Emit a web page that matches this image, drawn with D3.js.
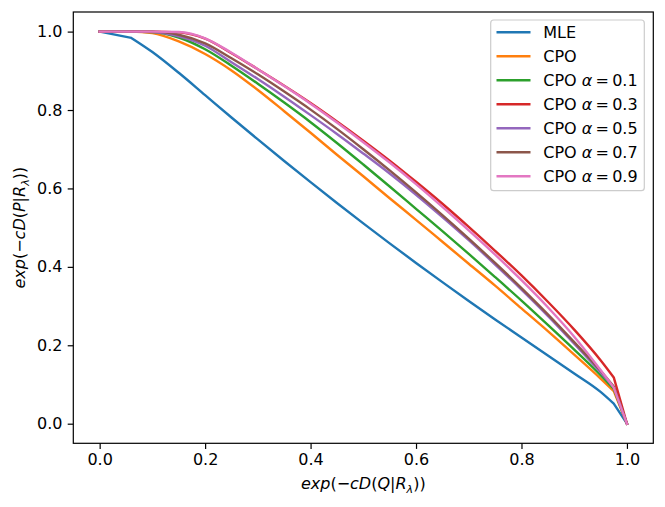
<!DOCTYPE html>
<html>
<head>
<meta charset="utf-8">
<script src="https://cdn.jsdelivr.net/npm/d3@7"></script>
<style>
  html, body { margin: 0; padding: 0; background: #fff; }
  svg { display: block; font-family: "DejaVu Sans", sans-serif; }
</style>
</head>
<body>
<svg id="chart" width="665" height="507"></svg>
<script>
// ---- data ----
const xs = [0, 0.06, 0.1, 0.15, 0.2, 0.25, 0.3, 0.35, 0.4, 0.45, 0.5, 0.55, 0.6, 0.65, 0.7, 0.75, 0.8, 0.85, 0.9, 0.95, 0.975, 1.0];
const mle  = [1, 0.984, 0.948, 0.895, 0.838, 0.781, 0.725, 0.670, 0.616, 0.563, 0.511, 0.460, 0.410, 0.361, 0.313, 0.266, 0.220, 0.174, 0.128, 0.081, 0.051, 0];
const cpo  = [1, 1, 0.996, 0.975, 0.943, 0.901, 0.851, 0.797, 0.742, 0.686, 0.631, 0.575, 0.520, 0.464, 0.408, 0.352, 0.294, 0.236, 0.176, 0.115, 0.083, 0];
const a01  = [1, 1, 0.999, 0.985, 0.955, 0.913, 0.867, 0.819, 0.769, 0.716, 0.661, 0.605, 0.548, 0.491, 0.433, 0.374, 0.314, 0.252, 0.189, 0.124, 0.089, 0];
const a03  = [1, 1, 1, 0.998, 0.982, 0.945, 0.904, 0.862, 0.818, 0.771, 0.722, 0.671, 0.617, 0.561, 0.502, 0.441, 0.378, 0.311, 0.240, 0.162, 0.118, 0];
const a05  = [1, 1, 0.999, 0.988, 0.964, 0.922, 0.879, 0.834, 0.787, 0.739, 0.689, 0.638, 0.584, 0.527, 0.468, 0.406, 0.342, 0.275, 0.204, 0.131, 0.093, 0];
const a07  = [1, 1, 1, 0.992, 0.970, 0.932, 0.891, 0.847, 0.801, 0.752, 0.700, 0.646, 0.590, 0.532, 0.472, 0.410, 0.346, 0.279, 0.208, 0.135, 0.095, 0];
const a09  = [1, 1, 1, 0.999, 0.983, 0.946, 0.904, 0.861, 0.816, 0.768, 0.718, 0.666, 0.611, 0.553, 0.493, 0.431, 0.366, 0.297, 0.222, 0.137, 0.092, 0];
const seriesNames = ["MLE", "CPO", "CPO α=0.1", "CPO α=0.3", "CPO α=0.5", "CPO α=0.7", "CPO α=0.9"];
const alphaLabels = [null, null, "0.1", "0.3", "0.5", "0.7", "0.9"];
const seriesValues = [mle, cpo, a01, a03, a05, a07, a09];
const colors = ["#1f77b4", "#ff7f0e", "#2ca02c", "#d62728", "#9467bd", "#8c564b", "#e377c2"];
const xTicks = [0, 0.2, 0.4, 0.6, 0.8, 1.0];
const yTicks = [0, 0.2, 0.4, 0.6, 0.8, 1.0];

// ---- layout ----
const svg = d3.select("#chart");
const L = 73.3, R = 653.3, T = 12, B = 443.3;
const FS = 16;
const x = d3.scaleLinear().domain([-0.05, 1.05]).range([L, R]);
const y = d3.scaleLinear().domain([-0.05, 1.05]).range([B, T]);

// lines
const lineSmooth = d3.line().x(d => x(d[0])).y(d => y(d[1])).curve(d3.curveMonotoneX);
const lineStraight = d3.line().x(d => x(d[0])).y(d => y(d[1]));
const g = svg.append("g");
seriesValues.forEach((vals, i) => {
  const pts = xs.map((xv, j) => [xv, vals[j]]);
  const body = pts.slice(0, pts.length - 1);
  const tail = pts.slice(pts.length - 2);
  const d = (i === 0 ? lineStraight(pts.slice(0, 2)) + lineSmooth(pts.slice(1, pts.length - 1)).replace(/^M/, "L") : lineSmooth(body))
            + lineStraight(tail).replace(/^M/, "L");
  g.append("path")
    .attr("d", d)
    .attr("fill", "none")
    .attr("stroke", colors[i])
    .attr("stroke-width", 2.4)
    .attr("stroke-linejoin", "round")
    .attr("stroke-linecap", "square");
});

// axes
const xAxis = d3.axisBottom(x).tickValues(xTicks).tickFormat(d3.format(".1f")).tickSize(5.6).tickPadding(5.2);
const yAxis = d3.axisLeft(y).tickValues(yTicks).tickFormat(d3.format(".1f")).tickSize(5.6).tickPadding(5.2);
const gx = svg.append("g").attr("transform", `translate(0,${B})`).call(xAxis);
const gy = svg.append("g").attr("transform", `translate(${L},0)`).call(yAxis);
[gx, gy].forEach(a => {
  a.select(".domain").remove();
  a.selectAll(".tick line").attr("stroke", "#000").attr("stroke-width", 1.2);
  a.selectAll(".tick text").attr("fill", "#000").style("font-size", FS + "px").style("font-family", "DejaVu Sans");
});
// spines
svg.append("rect").attr("x", L).attr("y", T).attr("width", R - L).attr("height", B - T)
  .attr("fill", "none").attr("stroke", "#000").attr("stroke-width", 1.2);

// math label helper
function mathLabel(sel, letter) {
  const it = (t) => sel.append("tspan").style("font-style", "italic").text(t);
  const up = (t) => sel.append("tspan").style("font-style", "normal").text(t);
  it("exp"); up("(−"); it("cD"); up("("); it(letter); up("|"); it("R");
  sel.append("tspan").style("font-style", "italic").style("font-size", (FS * 0.7) + "px").attr("dy", 3.5).text("λ");
  sel.append("tspan").style("font-style", "normal").attr("dy", -3.5).text("))");
}
const xl = svg.append("text").attr("x", (L + R) / 2).attr("y", 489).attr("text-anchor", "middle")
  .style("font-size", FS + "px");
mathLabel(xl, "Q");
const yl = svg.append("text").attr("transform", `translate(25,${(T + B) / 2}) rotate(-90)`)
  .attr("text-anchor", "middle").style("font-size", FS + "px");
mathLabel(yl, "P");

// legend
const lg = svg.append("g");
lg.append("rect").attr("x", 490.7).attr("y", 20).attr("width", 153.6).attr("height", 170.7)
  .attr("rx", 3).attr("fill", "#fff").attr("fill-opacity", 0.8)
  .attr("stroke", "#cccccc").attr("stroke-width", 1.2);
seriesNames.forEach((name, i) => {
  const cy = 32.3 + i * 24;
  lg.append("line").attr("x1", 496.5).attr("x2", 530.5).attr("y1", cy).attr("y2", cy)
    .attr("stroke", colors[i]).attr("stroke-width", 2.4);
  const t = lg.append("text").attr("x", 543.3).attr("y", cy + 5.8).style("font-size", FS + "px");
  if (alphaLabels[i] === null) {
    t.text(name);
  } else {
    t.append("tspan").text("CPO ");
    t.append("tspan").style("font-style", "italic").text("α");
    t.append("tspan").text("\u2009=\u2009" + alphaLabels[i]);
  }
});
</script>
</body>
</html>
